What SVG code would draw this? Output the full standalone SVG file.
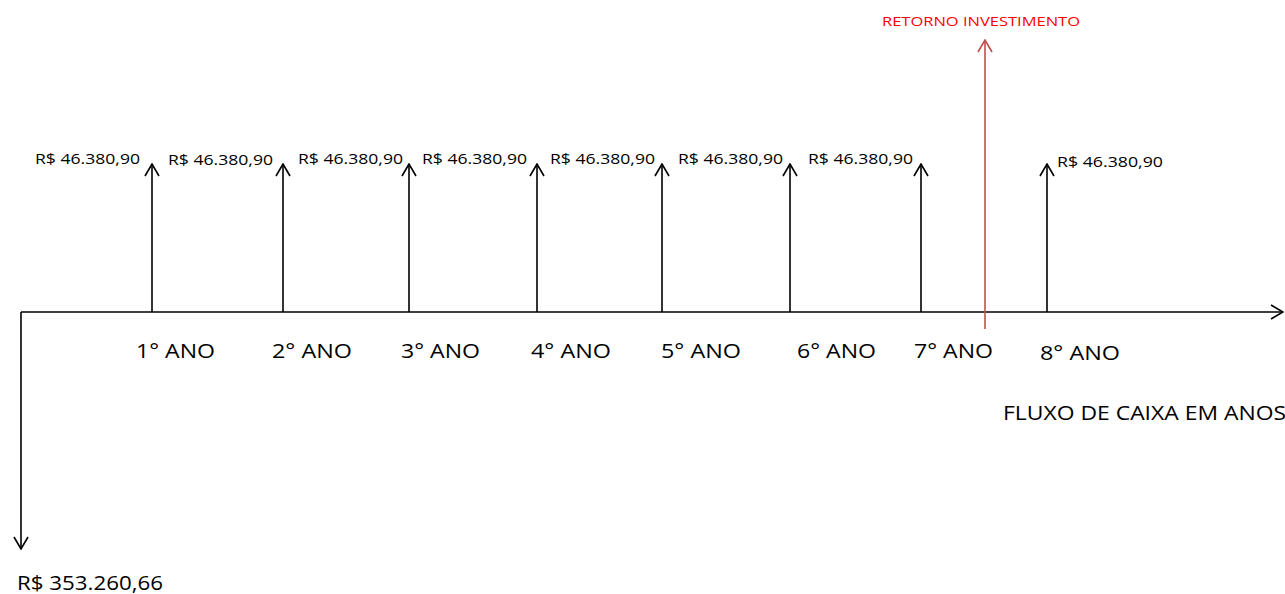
<svg xmlns="http://www.w3.org/2000/svg" width="1285" height="594" viewBox="0 0 1285 594">
<style>
text{font-family:"Open Sans","Liberation Sans",sans-serif;fill:#000}
.v{font-size:14px}
.y{font-size:20px}
.ln{stroke:#000;stroke-width:1.6;fill:none}
.red{stroke:#c0504d;stroke-width:1.6;fill:none}
</style>
<defs>
<marker id="ah" viewBox="0 0 14 16" refX="13" refY="8" markerWidth="14" markerHeight="16" markerUnits="userSpaceOnUse" orient="auto">
<path d="M1,1 L13,8 L1,15" fill="none" stroke="#000" stroke-width="1.6"/>
</marker>
<marker id="ahr" viewBox="0 0 14 16" refX="13" refY="8" markerWidth="14" markerHeight="16" markerUnits="userSpaceOnUse" orient="auto">
<path d="M1,1 L13,8 L1,15" fill="none" stroke="#c0504d" stroke-width="1.6"/>
</marker>
</defs>
<rect width="1285" height="594" fill="#fff"/>
<g id="connectors">
<line class="ln" x1="21" y1="312" x2="1283" y2="312" marker-end="url(#ah)"/>
<line class="ln" x1="21" y1="312" x2="21" y2="549" marker-end="url(#ah)"/>
<line class="ln" x1="152" y1="312" x2="152" y2="164" marker-end="url(#ah)"/>
<line class="ln" x1="283" y1="312" x2="283" y2="164" marker-end="url(#ah)"/>
<line class="ln" x1="409" y1="312" x2="409" y2="164" marker-end="url(#ah)"/>
<line class="ln" x1="537" y1="312" x2="537" y2="164" marker-end="url(#ah)"/>
<line class="ln" x1="662" y1="312" x2="662" y2="164" marker-end="url(#ah)"/>
<line class="ln" x1="790" y1="312" x2="790" y2="164" marker-end="url(#ah)"/>
<line class="ln" x1="921" y1="312" x2="921" y2="164" marker-end="url(#ah)"/>
<line class="ln" x1="1047" y1="312" x2="1047" y2="164" marker-end="url(#ah)"/>
<line class="red" x1="985" y1="329" x2="985" y2="40" marker-end="url(#ahr)"/>
</g>
<g id="values">
<text class="v" x="35" y="164" textLength="105" lengthAdjust="spacingAndGlyphs">R$ 46.380,90</text>
<text class="v" x="168" y="165" textLength="105" lengthAdjust="spacingAndGlyphs">R$ 46.380,90</text>
<text class="v" x="298" y="164" textLength="105" lengthAdjust="spacingAndGlyphs">R$ 46.380,90</text>
<text class="v" x="422" y="164" textLength="105" lengthAdjust="spacingAndGlyphs">R$ 46.380,90</text>
<text class="v" x="550" y="164" textLength="105" lengthAdjust="spacingAndGlyphs">R$ 46.380,90</text>
<text class="v" x="678" y="164" textLength="105" lengthAdjust="spacingAndGlyphs">R$ 46.380,90</text>
<text class="v" x="808" y="164" textLength="105" lengthAdjust="spacingAndGlyphs">R$ 46.380,90</text>
<text class="v" x="1057" y="167" textLength="106" lengthAdjust="spacingAndGlyphs">R$ 46.380,90</text>
</g>
<g id="years">
<text class="y" x="136" y="358" textLength="79" lengthAdjust="spacingAndGlyphs">1° ANO</text>
<text class="y" x="272" y="358" textLength="80" lengthAdjust="spacingAndGlyphs">2° ANO</text>
<text class="y" x="401" y="358" textLength="79" lengthAdjust="spacingAndGlyphs">3° ANO</text>
<text class="y" x="531" y="358" textLength="80" lengthAdjust="spacingAndGlyphs">4° ANO</text>
<text class="y" x="661" y="358" textLength="80" lengthAdjust="spacingAndGlyphs">5° ANO</text>
<text class="y" x="797" y="358" textLength="79" lengthAdjust="spacingAndGlyphs">6° ANO</text>
<text class="y" x="914" y="358" textLength="79" lengthAdjust="spacingAndGlyphs">7° ANO</text>
<text class="y" x="1040" y="360" textLength="80" lengthAdjust="spacingAndGlyphs">8° ANO</text>
</g>
<g id="labels">
<text x="882" y="26" style="font-size:13.5px;fill:#ff0000" textLength="198" lengthAdjust="spacingAndGlyphs">RETORNO INVESTIMENTO</text>
<text class="y" x="1003" y="420" textLength="283" lengthAdjust="spacingAndGlyphs">FLUXO DE CAIXA EM ANOS</text>
<text class="y" x="17" y="590" textLength="146" lengthAdjust="spacingAndGlyphs">R$ 353.260,66</text>
</g>
</svg>
